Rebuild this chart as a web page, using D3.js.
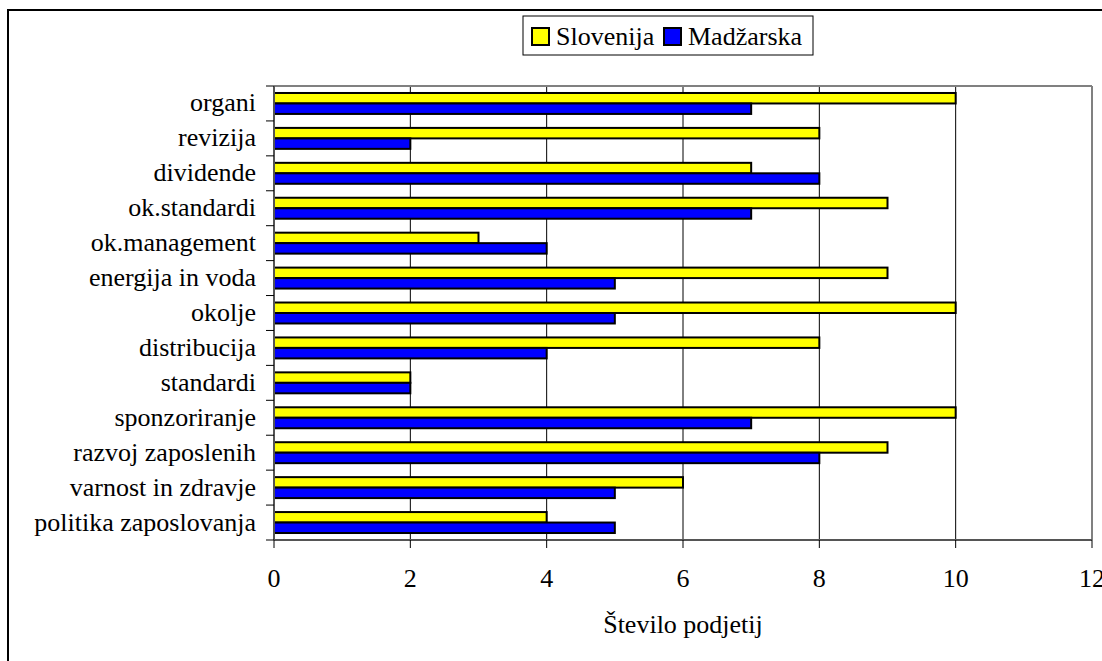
<!DOCTYPE html>
<html><head><meta charset="utf-8">
<script src="https://cdn.jsdelivr.net/npm/d3@7"></script>
<style>
body{margin:0;background:#fff;overflow:hidden}
svg{display:block}
svg text{font-family:"Liberation Serif","Times New Roman",Times,"Noto Serif","FreeSerif","DejaVu Serif",serif;}
</style>
</head><body>
<script>
const categories = ["organi","revizija","dividende","ok.standardi","ok.management","energija in voda","okolje","distribucija","standardi","sponzoriranje","razvoj zaposlenih","varnost in zdravje","politika zaposlovanja"];
const seriesNames = ["Slovenija","Madžarska"];
const slovenija = [10,8,7,9,3,9,10,8,2,10,9,6,4];
const madzarska = [7,2,8,7,4,5,5,4,2,7,8,5,5];
const xTicks = [0,2,4,6,8,10,12];
const xTitle = "Število podjetij";
const colors = ["#FFFF00","#0000FF"];

const W = 1102, H = 661;
const FS = 26;
const svg = d3.select("body").append("svg").attr("width", W).attr("height", H);
svg.append("rect").attr("width", W).attr("height", H).attr("fill", "#fff");
svg.append("rect").attr("x", 8).attr("y", 10).attr("width", 1300).attr("height", 900)
  .attr("fill", "none").attr("stroke", "#000").attr("stroke-width", 2);

const L = 274, R = 1092, T = 86, B = 540;
const x = d3.scaleLinear().domain([0, 12]).range([L, R]);
const y = d3.scaleBand().domain(categories).range([T, B]).padding(0);
const bw = y.bandwidth();
const sub = d3.scaleBand().domain(seriesNames).range([bw * 0.2, bw * 0.8]).padding(0);
const data = [slovenija, madzarska];

// gridlines
svg.append("g").selectAll("line").data(xTicks.filter(d => d > 0 && d < 12)).join("line")
  .attr("x1", d => x(d)).attr("x2", d => x(d)).attr("y1", T).attr("y2", B)
  .attr("stroke", "#000").attr("stroke-width", 1);

// plot border top & right
svg.append("line").attr("x1", L).attr("x2", R).attr("y1", T).attr("y2", T).attr("stroke", "#808080").attr("stroke-width", 2);
svg.append("line").attr("x1", R).attr("x2", R).attr("y1", T).attr("y2", B).attr("stroke", "#808080").attr("stroke-width", 2);

// bars
const gBars = svg.append("g");
seriesNames.forEach((s, si) => {
  gBars.selectAll(".b" + si).data(categories).join("rect")
    .attr("x", x(0))
    .attr("y", (c) => y(c) + sub(s))
    .attr("width", (c, i) => x(data[si][i]) - x(0))
    .attr("height", sub.bandwidth())
    .attr("fill", colors[si]).attr("stroke", "#000").attr("stroke-width", 2);
});

// axes
const axisColor = "#555";
svg.append("line").attr("x1", L).attr("x2", L).attr("y1", T).attr("y2", B).attr("stroke", axisColor).attr("stroke-width", 2);
svg.append("line").attr("x1", L).attr("x2", R).attr("y1", B).attr("y2", B).attr("stroke", axisColor).attr("stroke-width", 2);
const bounds = categories.map(c => y(c)).concat([B]);
svg.append("g").selectAll("line").data(bounds).join("line")
  .attr("x1", L - 8).attr("x2", L).attr("y1", d => d).attr("y2", d => d)
  .attr("stroke", "#000").attr("stroke-width", 1);
svg.append("g").selectAll("line").data(xTicks).join("line")
  .attr("x1", d => x(d)).attr("x2", d => x(d)).attr("y1", B).attr("y2", B + 8)
  .attr("stroke", "#000").attr("stroke-width", 1);

// category labels
svg.append("g").selectAll("text").data(categories).join("text")
  .attr("x", 256).attr("y", c => y(c) + bw / 2 + 8)
  .attr("text-anchor", "end").attr("font-size", FS).attr("fill", "#000")
  .text(c => c);
// x tick labels
svg.append("g").selectAll("text").data(xTicks).join("text")
  .attr("x", d => x(d)).attr("y", 587)
  .attr("text-anchor", "middle").attr("font-size", FS).attr("fill", "#000")
  .text(d => d);
// x title
svg.append("text").attr("x", (L + R) / 2).attr("y", 633)
  .attr("text-anchor", "middle").attr("font-size", FS).attr("fill", "#000")
  .text(xTitle);

// legend
const lg = svg.append("g");
lg.append("rect").attr("x", 523).attr("y", 16).attr("width", 290).attr("height", 39)
  .attr("fill", "#fff").attr("stroke", "#000").attr("stroke-width", 1);
const legX = [532, 664];
seriesNames.forEach((s, i) => {
  lg.append("rect").attr("x", legX[i]).attr("y", 28).attr("width", 17).attr("height", 17)
    .attr("fill", colors[i]).attr("stroke", "#000").attr("stroke-width", 2);
  lg.append("text").attr("x", legX[i] + 24).attr("y", 45)
    .attr("font-size", FS).attr("fill", "#000").text(s);
});
</script>
</body></html>
